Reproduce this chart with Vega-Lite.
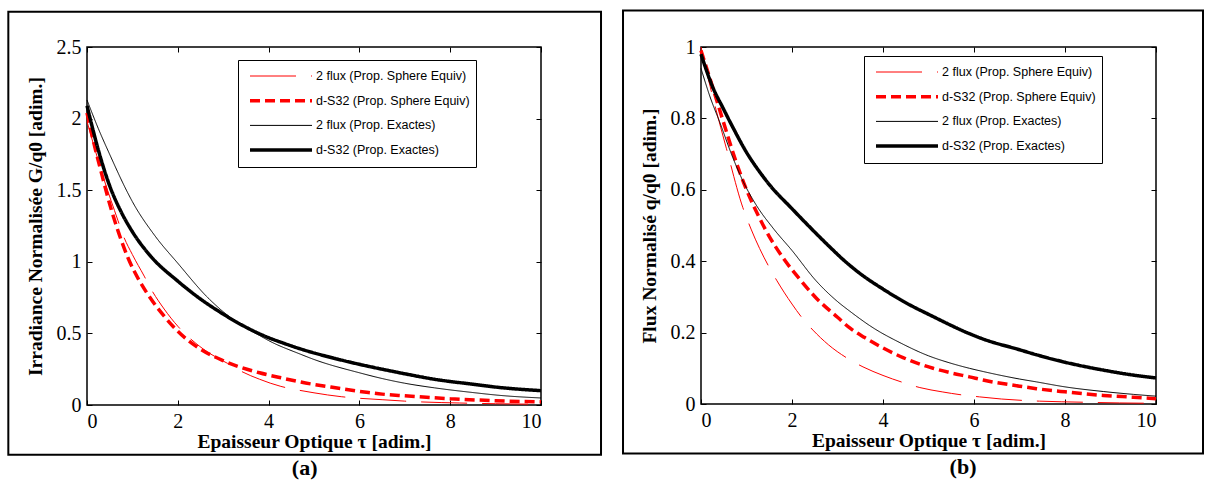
{
  "$schema": "https://vega.github.io/schema/vega-lite/v6.json",
  "padding": {"left": 6, "top": 8, "right": 0, "bottom": 0},
  "spacing": 18,
  "bounds": "full",
  "background": "white",
  "datasets": {
    "a": [
      {"s": "2 flux (Prop. Sphere Equiv)", "x": 0, "y": 1.98},
      {"s": "2 flux (Prop. Sphere Equiv)", "x": 0.35, "y": 1.6},
      {"s": "2 flux (Prop. Sphere Equiv)", "x": 0.68, "y": 1.29},
      {"s": "2 flux (Prop. Sphere Equiv)", "x": 0.79, "y": 1.19},
      {"s": "2 flux (Prop. Sphere Equiv)", "x": 1.0, "y": 1.05},
      {"s": "2 flux (Prop. Sphere Equiv)", "x": 1.26, "y": 0.9},
      {"s": "2 flux (Prop. Sphere Equiv)", "x": 1.41, "y": 0.81},
      {"s": "2 flux (Prop. Sphere Equiv)", "x": 1.7, "y": 0.67},
      {"s": "2 flux (Prop. Sphere Equiv)", "x": 2.0, "y": 0.55},
      {"s": "2 flux (Prop. Sphere Equiv)", "x": 2.4, "y": 0.43},
      {"s": "2 flux (Prop. Sphere Equiv)", "x": 2.73, "y": 0.355},
      {"s": "2 flux (Prop. Sphere Equiv)", "x": 3.1, "y": 0.29},
      {"s": "2 flux (Prop. Sphere Equiv)", "x": 3.4, "y": 0.235},
      {"s": "2 flux (Prop. Sphere Equiv)", "x": 3.8, "y": 0.18},
      {"s": "2 flux (Prop. Sphere Equiv)", "x": 4.27, "y": 0.13},
      {"s": "2 flux (Prop. Sphere Equiv)", "x": 4.64, "y": 0.105},
      {"s": "2 flux (Prop. Sphere Equiv)", "x": 5.0, "y": 0.085},
      {"s": "2 flux (Prop. Sphere Equiv)", "x": 5.6, "y": 0.058},
      {"s": "2 flux (Prop. Sphere Equiv)", "x": 6.0, "y": 0.047},
      {"s": "2 flux (Prop. Sphere Equiv)", "x": 6.5, "y": 0.037},
      {"s": "2 flux (Prop. Sphere Equiv)", "x": 7.0, "y": 0.027},
      {"s": "2 flux (Prop. Sphere Equiv)", "x": 7.4, "y": 0.021},
      {"s": "2 flux (Prop. Sphere Equiv)", "x": 8.2, "y": 0.014},
      {"s": "2 flux (Prop. Sphere Equiv)", "x": 9.0, "y": 0.009},
      {"s": "2 flux (Prop. Sphere Equiv)", "x": 10, "y": 0.005},
      {"s": "d-S32 (Prop. Sphere Equiv)", "x": 0, "y": 2.04},
      {"s": "d-S32 (Prop. Sphere Equiv)", "x": 0.15, "y": 1.83},
      {"s": "d-S32 (Prop. Sphere Equiv)", "x": 0.31, "y": 1.63},
      {"s": "d-S32 (Prop. Sphere Equiv)", "x": 0.53, "y": 1.37},
      {"s": "d-S32 (Prop. Sphere Equiv)", "x": 0.7, "y": 1.2},
      {"s": "d-S32 (Prop. Sphere Equiv)", "x": 0.9, "y": 1.03},
      {"s": "d-S32 (Prop. Sphere Equiv)", "x": 1.15, "y": 0.87},
      {"s": "d-S32 (Prop. Sphere Equiv)", "x": 1.41, "y": 0.74},
      {"s": "d-S32 (Prop. Sphere Equiv)", "x": 1.7, "y": 0.62},
      {"s": "d-S32 (Prop. Sphere Equiv)", "x": 2.0, "y": 0.515},
      {"s": "d-S32 (Prop. Sphere Equiv)", "x": 2.5, "y": 0.39},
      {"s": "d-S32 (Prop. Sphere Equiv)", "x": 3.0, "y": 0.31},
      {"s": "d-S32 (Prop. Sphere Equiv)", "x": 3.32, "y": 0.27},
      {"s": "d-S32 (Prop. Sphere Equiv)", "x": 3.8, "y": 0.225},
      {"s": "d-S32 (Prop. Sphere Equiv)", "x": 4.27, "y": 0.19},
      {"s": "d-S32 (Prop. Sphere Equiv)", "x": 4.71, "y": 0.16},
      {"s": "d-S32 (Prop. Sphere Equiv)", "x": 5.37, "y": 0.125},
      {"s": "d-S32 (Prop. Sphere Equiv)", "x": 6.2, "y": 0.087},
      {"s": "d-S32 (Prop. Sphere Equiv)", "x": 6.5, "y": 0.076},
      {"s": "d-S32 (Prop. Sphere Equiv)", "x": 7.0, "y": 0.064},
      {"s": "d-S32 (Prop. Sphere Equiv)", "x": 8.0, "y": 0.044},
      {"s": "d-S32 (Prop. Sphere Equiv)", "x": 9.0, "y": 0.03},
      {"s": "d-S32 (Prop. Sphere Equiv)", "x": 10, "y": 0.022},
      {"s": "2 flux (Prop. Exactes)", "x": 0, "y": 2.13},
      {"s": "2 flux (Prop. Exactes)", "x": 0.25, "y": 1.93},
      {"s": "2 flux (Prop. Exactes)", "x": 0.5, "y": 1.75},
      {"s": "2 flux (Prop. Exactes)", "x": 0.9, "y": 1.48},
      {"s": "2 flux (Prop. Exactes)", "x": 1.0, "y": 1.42},
      {"s": "2 flux (Prop. Exactes)", "x": 1.5, "y": 1.18},
      {"s": "2 flux (Prop. Exactes)", "x": 2.0, "y": 0.99},
      {"s": "2 flux (Prop. Exactes)", "x": 2.66, "y": 0.75},
      {"s": "2 flux (Prop. Exactes)", "x": 3.3, "y": 0.578},
      {"s": "2 flux (Prop. Exactes)", "x": 3.83, "y": 0.48},
      {"s": "2 flux (Prop. Exactes)", "x": 4.0, "y": 0.45},
      {"s": "2 flux (Prop. Exactes)", "x": 4.7, "y": 0.355},
      {"s": "2 flux (Prop. Exactes)", "x": 5.0, "y": 0.318},
      {"s": "2 flux (Prop. Exactes)", "x": 6.0, "y": 0.225},
      {"s": "2 flux (Prop. Exactes)", "x": 6.5, "y": 0.185},
      {"s": "2 flux (Prop. Exactes)", "x": 7.0, "y": 0.152},
      {"s": "2 flux (Prop. Exactes)", "x": 7.65, "y": 0.12},
      {"s": "2 flux (Prop. Exactes)", "x": 8.5, "y": 0.087},
      {"s": "2 flux (Prop. Exactes)", "x": 9.1, "y": 0.067},
      {"s": "2 flux (Prop. Exactes)", "x": 10, "y": 0.049},
      {"s": "d-S32 (Prop. Exactes)", "x": 0, "y": 2.09},
      {"s": "d-S32 (Prop. Exactes)", "x": 0.25, "y": 1.78},
      {"s": "d-S32 (Prop. Exactes)", "x": 0.5, "y": 1.53},
      {"s": "d-S32 (Prop. Exactes)", "x": 0.75, "y": 1.35},
      {"s": "d-S32 (Prop. Exactes)", "x": 1.0, "y": 1.21},
      {"s": "d-S32 (Prop. Exactes)", "x": 1.4, "y": 1.04},
      {"s": "d-S32 (Prop. Exactes)", "x": 2.0, "y": 0.865},
      {"s": "d-S32 (Prop. Exactes)", "x": 2.5, "y": 0.74},
      {"s": "d-S32 (Prop. Exactes)", "x": 3.0, "y": 0.635},
      {"s": "d-S32 (Prop. Exactes)", "x": 3.3, "y": 0.578},
      {"s": "d-S32 (Prop. Exactes)", "x": 4.0, "y": 0.47},
      {"s": "d-S32 (Prop. Exactes)", "x": 4.3, "y": 0.435},
      {"s": "d-S32 (Prop. Exactes)", "x": 4.7, "y": 0.392},
      {"s": "d-S32 (Prop. Exactes)", "x": 5.4, "y": 0.33},
      {"s": "d-S32 (Prop. Exactes)", "x": 6.2, "y": 0.27},
      {"s": "d-S32 (Prop. Exactes)", "x": 6.5, "y": 0.25},
      {"s": "d-S32 (Prop. Exactes)", "x": 7.0, "y": 0.218},
      {"s": "d-S32 (Prop. Exactes)", "x": 7.65, "y": 0.18},
      {"s": "d-S32 (Prop. Exactes)", "x": 8.5, "y": 0.145},
      {"s": "d-S32 (Prop. Exactes)", "x": 9.1, "y": 0.122},
      {"s": "d-S32 (Prop. Exactes)", "x": 10, "y": 0.1}
    ],
    "b": [
      {"s": "2 flux (Prop. Sphere Equiv)", "x": 0, "y": 1.0},
      {"s": "2 flux (Prop. Sphere Equiv)", "x": 0.2, "y": 0.89},
      {"s": "2 flux (Prop. Sphere Equiv)", "x": 0.56, "y": 0.715},
      {"s": "2 flux (Prop. Sphere Equiv)", "x": 0.92, "y": 0.55},
      {"s": "2 flux (Prop. Sphere Equiv)", "x": 1.1, "y": 0.49},
      {"s": "2 flux (Prop. Sphere Equiv)", "x": 1.49, "y": 0.385},
      {"s": "2 flux (Prop. Sphere Equiv)", "x": 1.67, "y": 0.345},
      {"s": "2 flux (Prop. Sphere Equiv)", "x": 2.0, "y": 0.28},
      {"s": "2 flux (Prop. Sphere Equiv)", "x": 2.23, "y": 0.24},
      {"s": "2 flux (Prop. Sphere Equiv)", "x": 2.46, "y": 0.207},
      {"s": "2 flux (Prop. Sphere Equiv)", "x": 2.8, "y": 0.166},
      {"s": "2 flux (Prop. Sphere Equiv)", "x": 3.23, "y": 0.127},
      {"s": "2 flux (Prop. Sphere Equiv)", "x": 3.56, "y": 0.104},
      {"s": "2 flux (Prop. Sphere Equiv)", "x": 4.0, "y": 0.08},
      {"s": "2 flux (Prop. Sphere Equiv)", "x": 4.47, "y": 0.059},
      {"s": "2 flux (Prop. Sphere Equiv)", "x": 4.81, "y": 0.046},
      {"s": "2 flux (Prop. Sphere Equiv)", "x": 5.3, "y": 0.034},
      {"s": "2 flux (Prop. Sphere Equiv)", "x": 5.76, "y": 0.025},
      {"s": "2 flux (Prop. Sphere Equiv)", "x": 6.12, "y": 0.02},
      {"s": "2 flux (Prop. Sphere Equiv)", "x": 6.6, "y": 0.014},
      {"s": "2 flux (Prop. Sphere Equiv)", "x": 7.08, "y": 0.01},
      {"s": "2 flux (Prop. Sphere Equiv)", "x": 7.44, "y": 0.008},
      {"s": "2 flux (Prop. Sphere Equiv)", "x": 8.4, "y": 0.005},
      {"s": "2 flux (Prop. Sphere Equiv)", "x": 9.2, "y": 0.003},
      {"s": "2 flux (Prop. Sphere Equiv)", "x": 10, "y": 0.002},
      {"s": "d-S32 (Prop. Sphere Equiv)", "x": 0, "y": 0.99},
      {"s": "d-S32 (Prop. Sphere Equiv)", "x": 0.25, "y": 0.89},
      {"s": "d-S32 (Prop. Sphere Equiv)", "x": 0.48, "y": 0.795},
      {"s": "d-S32 (Prop. Sphere Equiv)", "x": 0.78, "y": 0.675},
      {"s": "d-S32 (Prop. Sphere Equiv)", "x": 1.0, "y": 0.6},
      {"s": "d-S32 (Prop. Sphere Equiv)", "x": 1.29, "y": 0.52},
      {"s": "d-S32 (Prop. Sphere Equiv)", "x": 1.44, "y": 0.483},
      {"s": "d-S32 (Prop. Sphere Equiv)", "x": 1.8, "y": 0.41},
      {"s": "d-S32 (Prop. Sphere Equiv)", "x": 2.2, "y": 0.345},
      {"s": "d-S32 (Prop. Sphere Equiv)", "x": 2.53, "y": 0.297},
      {"s": "d-S32 (Prop. Sphere Equiv)", "x": 3.0, "y": 0.243},
      {"s": "d-S32 (Prop. Sphere Equiv)", "x": 3.27, "y": 0.213},
      {"s": "d-S32 (Prop. Sphere Equiv)", "x": 3.6, "y": 0.186},
      {"s": "d-S32 (Prop. Sphere Equiv)", "x": 4.0, "y": 0.157},
      {"s": "d-S32 (Prop. Sphere Equiv)", "x": 4.44, "y": 0.13},
      {"s": "d-S32 (Prop. Sphere Equiv)", "x": 5.1, "y": 0.1},
      {"s": "d-S32 (Prop. Sphere Equiv)", "x": 5.5, "y": 0.087},
      {"s": "d-S32 (Prop. Sphere Equiv)", "x": 5.9, "y": 0.076},
      {"s": "d-S32 (Prop. Sphere Equiv)", "x": 6.2, "y": 0.067},
      {"s": "d-S32 (Prop. Sphere Equiv)", "x": 7.0, "y": 0.05},
      {"s": "d-S32 (Prop. Sphere Equiv)", "x": 7.37, "y": 0.043},
      {"s": "d-S32 (Prop. Sphere Equiv)", "x": 8.0, "y": 0.034},
      {"s": "d-S32 (Prop. Sphere Equiv)", "x": 8.84, "y": 0.024},
      {"s": "d-S32 (Prop. Sphere Equiv)", "x": 9.5, "y": 0.019},
      {"s": "d-S32 (Prop. Sphere Equiv)", "x": 10, "y": 0.015},
      {"s": "2 flux (Prop. Exactes)", "x": 0, "y": 0.94},
      {"s": "2 flux (Prop. Exactes)", "x": 0.2, "y": 0.86},
      {"s": "2 flux (Prop. Exactes)", "x": 0.41, "y": 0.79},
      {"s": "2 flux (Prop. Exactes)", "x": 0.7, "y": 0.69},
      {"s": "2 flux (Prop. Exactes)", "x": 0.92, "y": 0.625},
      {"s": "2 flux (Prop. Exactes)", "x": 1.2, "y": 0.56},
      {"s": "2 flux (Prop. Exactes)", "x": 1.6, "y": 0.49},
      {"s": "2 flux (Prop. Exactes)", "x": 2.0, "y": 0.43},
      {"s": "2 flux (Prop. Exactes)", "x": 2.53, "y": 0.345},
      {"s": "2 flux (Prop. Exactes)", "x": 3.0, "y": 0.287},
      {"s": "2 flux (Prop. Exactes)", "x": 3.27, "y": 0.26},
      {"s": "2 flux (Prop. Exactes)", "x": 3.8, "y": 0.212},
      {"s": "2 flux (Prop. Exactes)", "x": 4.37, "y": 0.172},
      {"s": "2 flux (Prop. Exactes)", "x": 5.0, "y": 0.135},
      {"s": "2 flux (Prop. Exactes)", "x": 5.47, "y": 0.115},
      {"s": "2 flux (Prop. Exactes)", "x": 5.9, "y": 0.1},
      {"s": "2 flux (Prop. Exactes)", "x": 6.2, "y": 0.091},
      {"s": "2 flux (Prop. Exactes)", "x": 7.0, "y": 0.07},
      {"s": "2 flux (Prop. Exactes)", "x": 7.37, "y": 0.062},
      {"s": "2 flux (Prop. Exactes)", "x": 8.0, "y": 0.048},
      {"s": "2 flux (Prop. Exactes)", "x": 8.84, "y": 0.035},
      {"s": "2 flux (Prop. Exactes)", "x": 9.5, "y": 0.027},
      {"s": "2 flux (Prop. Exactes)", "x": 10, "y": 0.022},
      {"s": "d-S32 (Prop. Exactes)", "x": 0, "y": 0.98},
      {"s": "d-S32 (Prop. Exactes)", "x": 0.25, "y": 0.89},
      {"s": "d-S32 (Prop. Exactes)", "x": 0.5, "y": 0.825},
      {"s": "d-S32 (Prop. Exactes)", "x": 0.7, "y": 0.775},
      {"s": "d-S32 (Prop. Exactes)", "x": 1.0, "y": 0.705},
      {"s": "d-S32 (Prop. Exactes)", "x": 1.29, "y": 0.65},
      {"s": "d-S32 (Prop. Exactes)", "x": 1.5, "y": 0.615},
      {"s": "d-S32 (Prop. Exactes)", "x": 2.0, "y": 0.547},
      {"s": "d-S32 (Prop. Exactes)", "x": 2.38, "y": 0.497},
      {"s": "d-S32 (Prop. Exactes)", "x": 2.83, "y": 0.44},
      {"s": "d-S32 (Prop. Exactes)", "x": 3.12, "y": 0.405},
      {"s": "d-S32 (Prop. Exactes)", "x": 3.5, "y": 0.365},
      {"s": "d-S32 (Prop. Exactes)", "x": 4.0, "y": 0.322},
      {"s": "d-S32 (Prop. Exactes)", "x": 4.44, "y": 0.288},
      {"s": "d-S32 (Prop. Exactes)", "x": 5.1, "y": 0.245},
      {"s": "d-S32 (Prop. Exactes)", "x": 5.9, "y": 0.197},
      {"s": "d-S32 (Prop. Exactes)", "x": 6.2, "y": 0.182},
      {"s": "d-S32 (Prop. Exactes)", "x": 7.0, "y": 0.152},
      {"s": "d-S32 (Prop. Exactes)", "x": 7.37, "y": 0.138},
      {"s": "d-S32 (Prop. Exactes)", "x": 8.0, "y": 0.117},
      {"s": "d-S32 (Prop. Exactes)", "x": 8.84, "y": 0.095},
      {"s": "d-S32 (Prop. Exactes)", "x": 9.5, "y": 0.081},
      {"s": "d-S32 (Prop. Exactes)", "x": 10, "y": 0.073}
    ]
  },
  "hconcat": [
    {
      "width": 454,
      "height": 358,
      "title": {"text": "(a)", "orient": "bottom", "anchor": "middle", "frame": "bounds", "offset": 2},
      "layer": [
        {
          "data": {"name": "a"},
          "mark": {"type": "line", "interpolate": "monotone"},
          "encoding": {
            "x": {"field": "x", "type": "quantitative", "scale": {"domain": [0, 10], "nice": false},
                  "axis": {"orient": "bottom", "values": [0, 2, 4, 6, 8, 10], "title": "Epaisseur Optique τ [adim.]"}},
            "y": {"field": "y", "type": "quantitative", "scale": {"domain": [0, 2.5], "nice": false},
                  "axis": {"orient": "left", "values": [0, 0.5, 1, 1.5, 2, 2.5], "format": "~g", "title": "Irradiance Normalisée G/q0 [adim.]"}},
            "color": {"field": "s", "type": "nominal",
                      "scale": {"domain": ["2 flux (Prop. Sphere Equiv)", "d-S32 (Prop. Sphere Equiv)", "2 flux (Prop. Exactes)", "d-S32 (Prop. Exactes)"], "range": ["#ff0000", "#ff0000", "#000000", "#000000"]},
                      "legend": {"orient": "none", "legendX": 151, "legendY": 13, "title": null}},
            "strokeDash": {"field": "s", "type": "nominal",
                      "scale": {"type": "ordinal", "domain": ["2 flux (Prop. Sphere Equiv)", "d-S32 (Prop. Sphere Equiv)", "2 flux (Prop. Exactes)", "d-S32 (Prop. Exactes)"], "range": [[46, 15], [10, 5], [1, 0], [1, 0]]},
                      "legend": {"orient": "none", "legendX": 151, "legendY": 13, "title": null}},
            "strokeWidth": {"field": "s", "type": "nominal",
                      "scale": {"type": "ordinal", "domain": ["2 flux (Prop. Sphere Equiv)", "d-S32 (Prop. Sphere Equiv)", "2 flux (Prop. Exactes)", "d-S32 (Prop. Exactes)"], "range": [1, 3.5, 1, 3.5]},
                      "legend": {"orient": "none", "legendX": 151, "legendY": 13, "title": null}}
          }
        },
        {
          "data": {"values": [{}]},
          "mark": {"type": "rect", "filled": false, "stroke": "black", "strokeWidth": 2},
          "encoding": {
            "x": {"datum": -1.733, "type": "quantitative", "scale": {"domain": [0, 10], "nice": false},
                  "axis": {"orient": "top", "values": [0, 2, 4, 6, 8, 10], "labels": false, "title": null}},
            "x2": {"datum": 11.322},
            "y": {"datum": 2.747, "type": "quantitative", "scale": {"domain": [0, 2.5], "nice": false},
                  "axis": {"orient": "right", "values": [0, 0.5, 1, 1.5, 2, 2.5], "labels": false, "title": null}},
            "y2": {"datum": -0.347}
          }
        }
      ],
      "resolve": {"axis": {"x": "independent", "y": "independent"}}
    },
    {
      "width": 455,
      "height": 357,
      "title": {"text": "(b)", "orient": "bottom", "anchor": "middle", "frame": "bounds", "offset": 2, "dx": 50},
      "layer": [
        {
          "data": {"name": "b"},
          "mark": {"type": "line", "interpolate": "monotone"},
          "encoding": {
            "x": {"field": "x", "type": "quantitative", "scale": {"domain": [0, 10], "nice": false},
                  "axis": {"orient": "bottom", "values": [0, 2, 4, 6, 8, 10], "title": "Epaisseur Optique τ [adim.]"}},
            "y": {"field": "y", "type": "quantitative", "scale": {"domain": [0, 1], "nice": false},
                  "axis": {"orient": "left", "values": [0, 0.2, 0.4, 0.6, 0.8, 1], "format": "~g", "title": "Flux Normalisé q/q0 [adim.]"}},
            "color": {"field": "s", "type": "nominal",
                      "scale": {"domain": ["2 flux (Prop. Sphere Equiv)", "d-S32 (Prop. Sphere Equiv)", "2 flux (Prop. Exactes)", "d-S32 (Prop. Exactes)"], "range": ["#ff0000", "#ff0000", "#000000", "#000000"]},
                      "legend": {"orient": "none", "legendX": 163, "legendY": 9, "title": null}},
            "strokeDash": {"field": "s", "type": "nominal",
                      "scale": {"type": "ordinal", "domain": ["2 flux (Prop. Sphere Equiv)", "d-S32 (Prop. Sphere Equiv)", "2 flux (Prop. Exactes)", "d-S32 (Prop. Exactes)"], "range": [[46, 15], [10, 5], [1, 0], [1, 0]]},
                      "legend": {"orient": "none", "legendX": 163, "legendY": 9, "title": null}},
            "strokeWidth": {"field": "s", "type": "nominal",
                      "scale": {"type": "ordinal", "domain": ["2 flux (Prop. Sphere Equiv)", "d-S32 (Prop. Sphere Equiv)", "2 flux (Prop. Exactes)", "d-S32 (Prop. Exactes)"], "range": [1, 3.5, 1, 3.5]},
                      "legend": {"orient": "none", "legendX": 163, "legendY": 9, "title": null}}
          }
        },
        {
          "data": {"values": [{}]},
          "mark": {"type": "rect", "filled": false, "stroke": "black", "strokeWidth": 2},
          "encoding": {
            "x": {"datum": -1.714, "type": "quantitative", "scale": {"domain": [0, 10], "nice": false},
                  "axis": {"orient": "top", "values": [0, 2, 4, 6, 8, 10], "labels": false, "title": null}},
            "x2": {"datum": 11.033},
            "y": {"datum": 1.102, "type": "quantitative", "scale": {"domain": [0, 1], "nice": false},
                  "axis": {"orient": "right", "values": [0, 0.2, 0.4, 0.6, 0.8, 1], "labels": false, "title": null}},
            "y2": {"datum": -0.139}
          }
        }
      ],
      "resolve": {"axis": {"x": "independent", "y": "independent"}}
    }
  ],
  "resolve": {
    "scale": {"color": "independent", "strokeDash": "independent", "strokeWidth": "independent", "x": "independent", "y": "independent"},
    "legend": {"color": "independent", "strokeDash": "independent", "strokeWidth": "independent"}
  },
  "config": {
    "view": {"stroke": "black", "strokeWidth": 1.5},
    "axis": {
      "domain": false, "grid": false, "ticks": true, "tickColor": "black", "tickSize": -5, "tickWidth": 1,
      "labelFont": "Liberation Serif", "labelFontSize": 20, "labelColor": "black", "labelPadding": 11,
      "titleFont": "Liberation Serif", "titleFontSize": 19.5, "titleFontWeight": "bold", "titleColor": "black"
    },
    "axisX": {"titlePadding": 1},
    "axisY": {"titlePadding": 11},
    "legend": {
      "symbolType": "stroke", "symbolSize": 3844, "clipHeight": 20, "rowPadding": 4.7, "padding": 6,
      "strokeColor": "black", "fillColor": "white", "labelFont": "Liberation Sans", "labelFontSize": 12.5,
      "labelColor": "black", "labelOffset": 2, "symbolOffset": 4, "labelLimit": 400
    },
    "title": {"font": "Liberation Serif", "fontSize": 22, "fontWeight": "bold", "color": "black"}
  }
}
